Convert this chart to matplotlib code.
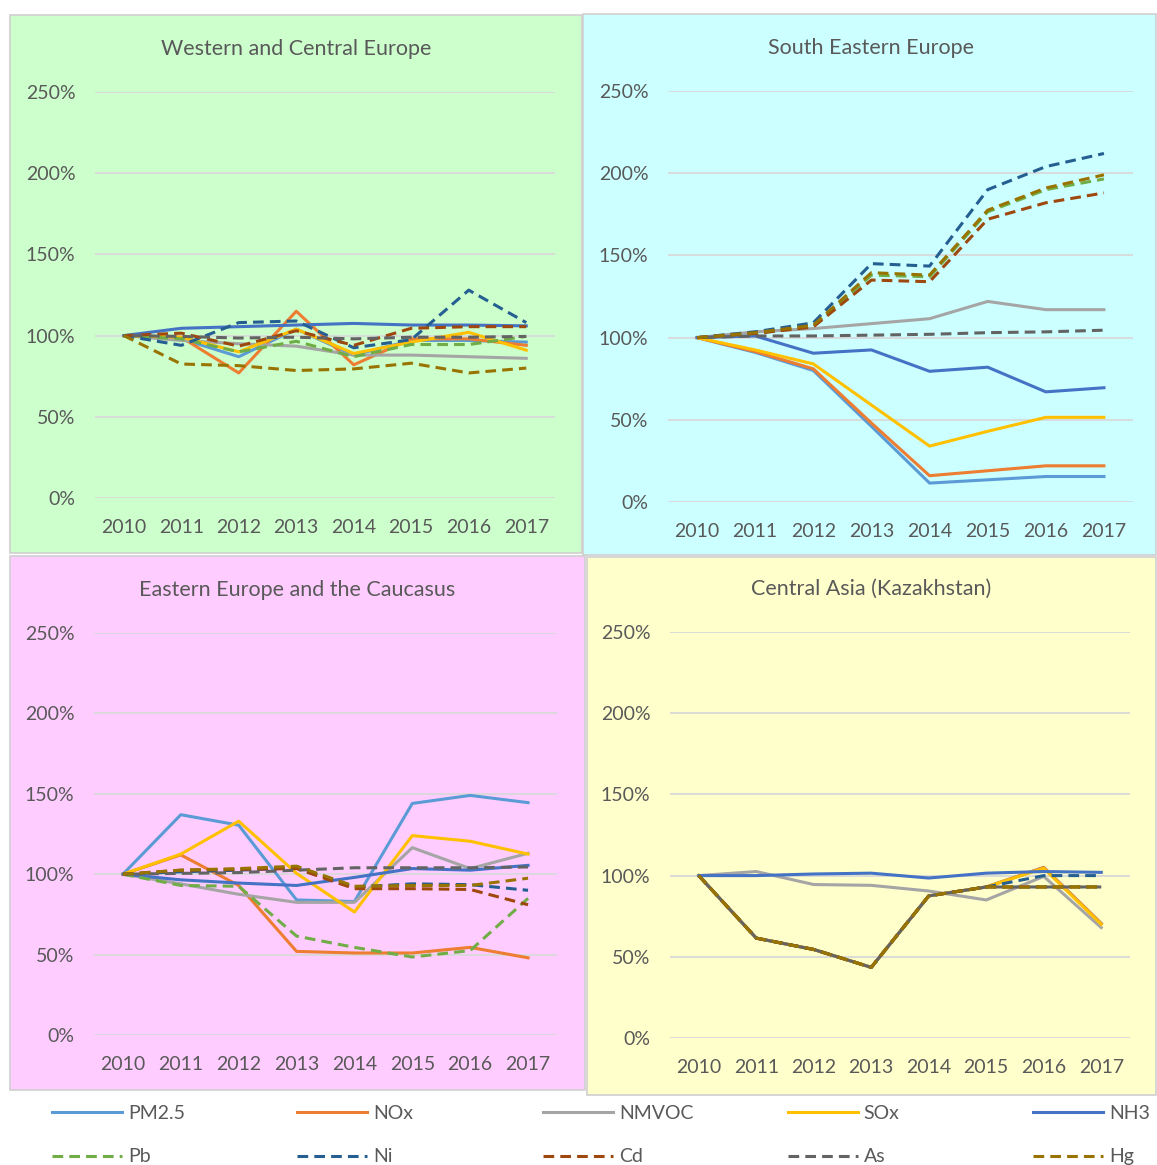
import matplotlib
matplotlib.use('Agg')
import matplotlib.pyplot as plt
from matplotlib.patches import Rectangle
from matplotlib.lines import Line2D

plt.rcParams['font.family'] = ['Lato', 'DejaVu Sans']

years = ['2010', '2011', '2012', '2013', '2014', '2015', '2016', '2017']
series = ['PM2.5', 'NOx', 'NMVOC', 'SOx', 'NH3', 'Pb', 'Ni', 'Cd', 'As', 'Hg']
colors = ['#5B9BD5', '#ED7D31', '#A5A5A5', '#FFC000', '#4472C4',
          '#70AD47', '#255E91', '#9E480E', '#636363', '#997300']
dashed = [False] * 5 + [True] * 5

titles = ['Western and Central Europe', 'South Eastern Europe',
          'Eastern Europe and the Caucasus', 'Central Asia (Kazakhstan)']

# values in % of 2010
wce = {
    'PM2.5': [100, 98, 87, 104, 88, 97, 97, 96],
    'NOx':   [100, 99, 77, 115, 82, 98, 98, 94],
    'NMVOC': [100, 97, 95, 93.5, 88, 88, 87, 86],
    'SOx':   [100, 99, 90, 104, 89, 96, 102, 91],
    'NH3':   [100, 104.5, 105.5, 106.5, 107.5, 106.5, 106.5, 106],
    'Pb':    [100, 98, 90, 96.5, 87, 94.5, 94.5, 99.5],
    'Ni':    [100, 94, 108, 109, 92.5, 97.5, 128, 108],
    'Cd':    [100, 101.5, 93.5, 103, 94, 104.5, 105.5, 105.5],
    'As':    [100, 99.5, 98.5, 99, 98, 99, 99, 99.5],
    'Hg':    [100, 82.5, 81.5, 78.5, 79.5, 83, 77, 80],
}
see = {
    'PM2.5': [100, 91, 80, 46, 11.5, 13.5, 15.5, 15.5],
    'NOx':   [100, 91.5, 81, 48, 16, 19, 22, 22],
    'NMVOC': [100, 103.5, 105.5, 108.5, 111.5, 122, 117, 117],
    'SOx':   [100, 92.5, 84, 59, 34, 43, 51.5, 51.5],
    'NH3':   [100, 101, 90.5, 92.5, 79.5, 82, 67, 69.5],
    'Pb':    [100, 102.5, 107, 138, 137, 176.5, 190, 196.5],
    'Ni':    [100, 103.5, 109, 145, 143.5, 190, 204, 212],
    'Cd':    [100, 102.5, 106.5, 135, 134, 172, 182, 188],
    'As':    [100, 101, 101, 101.5, 102, 103, 103.5, 104.5],
    'Hg':    [100, 103, 107.5, 139.5, 138, 177.5, 191, 199],
}
eec = {
    'PM2.5': [100, 137, 130.5, 84, 83, 144, 149, 144.5],
    'NOx':   [100, 112, 93, 52, 51, 51, 54.5, 48],
    'NMVOC': [100, 94, 87.5, 82.5, 82.5, 116.5, 103.5, 113],
    'SOx':   [100, 112.5, 133, 100.5, 76.5, 124, 120.5, 112.5],
    'NH3':   [100, 96.5, 94.5, 93, 98, 103.5, 102.5, 105.5],
    'Pb':    [100, 93, 92.5, 61.5, 54.5, 48.5, 52.5, 85],
    'Ni':    [100, 101.5, 102.5, 104, 92, 94, 93.5, 90],
    'Cd':    [100, 102.5, 103, 103.5, 91, 91, 90.5, 81],
    'As':    [100, 100.5, 101, 102.5, 104, 104, 104, 104.5],
    'Hg':    [100, 102.5, 103.5, 105, 92.5, 93, 93, 97.5],
}
kaz = {
    'PM2.5': [100, 61.5, 54.5, 43.5, 87.5, 93, 105, 70.5],
    'NOx':   [100, 61.5, 54.5, 43.5, 87.5, 93, 105, 70.5],
    'NMVOC': [100, 102.5, 94.5, 94, 90.5, 85, 99.5, 68],
    'SOx':   [100, 61.5, 54.5, 43.5, 87.5, 93, 104.5, 70],
    'NH3':   [100, 100, 101, 101.5, 98.5, 101.5, 102.5, 102],
    'Pb':    [100, 61.5, 54.5, 43.5, 87.5, 93, 93, 93],
    'Ni':    [100, 61.5, 54.5, 43.5, 87.5, 93, 100, 100],
    'Cd':    [100, 61.5, 54.5, 43.5, 87.5, 93, 93, 93],
    'As':    [100, 61.5, 54.5, 43.5, 87.5, 93, 93, 93],
    'Hg':    [100, 61.5, 54.5, 43.5, 87.5, 93, 93, 93],
}
regions = [wce, see, eec, kaz]

W, H = 1157, 1165
fig = plt.figure(figsize=(W / 100, H / 100), dpi=100)

# panel boxes (pixels): background box, plot area, title centre, colour
bg_boxes = [(10, 15, 582, 553), (583, 14, 1156, 555),
            (10, 556, 585, 1090), (587, 557, 1156, 1095)]
plot_boxes = [(95, 92, 555, 498), (668, 91, 1133, 502),
              (94, 633, 557, 1035), (670, 632, 1130, 1038)]
title_pos = [(296, 49), (871, 48), (297, 590), (871, 589)]
bg_colors = ['#CCFFCC', '#CCFFFF', '#FFCCFF', '#FFFFCC']


def dash_style(k):
    # As dashes shifted half a period so overlapping lines show both colours
    if series[k] == 'As':
        return (2.75, (3.5, 2))
    return (0, (3.5, 2))


txt = '#595959'
for i in range(4):
    x0, y0, x1, y1 = bg_boxes[i]
    fig.patches.append(Rectangle((x0 / W, 1 - y1 / H), (x1 - x0) / W, (y1 - y0) / H,
                                 transform=fig.transFigure, facecolor=bg_colors[i],
                                 edgecolor='#D0D0D0', lw=1.2, zorder=-10))
    l, t, r, b = plot_boxes[i]
    ax = fig.add_axes([l / W, 1 - b / H, (r - l) / W, (b - t) / H])
    ax.set_facecolor('none')
    data = regions[i]
    for k, name in enumerate(series):
        if dashed[k]:
            ax.plot(range(8), data[name], color=colors[k], lw=2.2,
                    linestyle=dash_style(k))
        else:
            ax.plot(range(8), data[name], color=colors[k], lw=2.2)
    ax.set_xlim(-0.5, 7.5)
    ax.set_ylim(0, 250)
    ax.set_yticks([0, 50, 100, 150, 200, 250])
    ax.set_yticklabels(['0%', '50%', '100%', '150%', '200%', '250%'])
    ax.set_xticks(range(8))
    ax.set_xticklabels(years)
    ax.grid(axis='y', color='#D9D9D9', lw=1.3)
    ax.set_axisbelow(True)
    for s in ax.spines.values():
        s.set_visible(False)
    ax.tick_params(axis='both', length=0, labelsize=14, labelcolor=txt)
    ax.tick_params(axis='y', pad=14)
    ax.tick_params(axis='x', pad=15)
    fig.text(title_pos[i][0] / W, 1 - title_pos[i][1] / H, titles[i],
             ha='center', va='center', fontsize=15.5, color=txt)

# legend: five columns, two rows
col_x = [52, 297, 543, 788, 1033]
for c in range(5):
    hs = []
    for k in (c, c + 5):
        ls = (0, (3.5, 2)) if dashed[k] else '-'
        hs.append(Line2D([], [], color=colors[k], lw=2.2, linestyle=ls))
    fig.legend(handles=hs, labels=[series[c], series[c + 5]], loc='upper left',
               bbox_to_anchor=(col_x[c] / W, 1 - 1105 / H), frameon=False,
               borderpad=0, borderaxespad=0, handlelength=3.6, handletextpad=0.3,
               labelspacing=1.36, fontsize=14, labelcolor=txt)

fig.savefig('out.png', dpi=100)
